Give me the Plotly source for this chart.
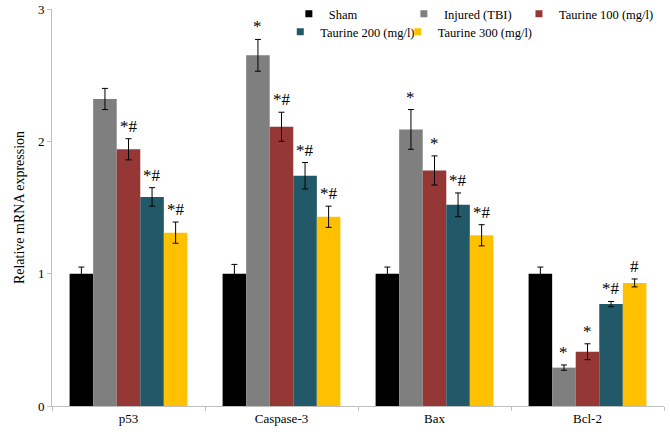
import plotly.graph_objects as go

categories = ["p53", "Caspase-3", "Bax", "Bcl-2"]
series_names = ["Sham", "Injured (TBI)", "Taurine 100 (mg/l)", "Taurine 200 (mg/l)", "Taurine 300 (mg/l)"]
colors = ["#000000", "#7f7f7f", "#953735", "#215968", "#ffc000"]

sham = [1.00, 1.00, 1.00, 1.00]
injured = [2.32, 2.65, 2.09, 0.29]
taurine100 = [1.94, 2.11, 1.78, 0.41]
taurine200 = [1.58, 1.74, 1.52, 0.77]
taurine300 = [1.31, 1.43, 1.29, 0.93]

sham_err = [0.05, 0.07, 0.05, 0.05]
injured_err = [0.08, 0.12, 0.15, 0.02]
taurine100_err = [0.08, 0.11, 0.11, 0.06]
taurine200_err = [0.07, 0.10, 0.09, 0.02]
taurine300_err = [0.08, 0.08, 0.08, 0.03]

sham_sig = ["", "", "", ""]
injured_sig = ["", "*", "*", "*"]
taurine100_sig = ["*#", "*#", "*", "*"]
taurine200_sig = ["*#", "*#", "*#", "*#"]
taurine300_sig = ["*#", "*#", "*#", "#"]

values = [sham, injured, taurine100, taurine200, taurine300]
errors = [sham_err, injured_err, taurine100_err, taurine200_err, taurine300_err]
sigs = [sham_sig, injured_sig, taurine100_sig, taurine200_sig, taurine300_sig]

FONT = "Liberation Serif"

# one legend box per entry (two rows like the original)
legend_ids = ["legend", "legend2", "legend3", "legend4", "legend5"]
legend_x = [0.387, 0.575, 0.763, 0.373, 0.565]
legend_y = [0.987, 0.987, 0.987, 0.942, 0.942]

fig = go.Figure()
for name, col, vals, errs in zip(series_names, colors, values, errors):
    fig.add_trace(go.Bar(
        x=categories, y=vals, name=name, marker=dict(color=col, line=dict(width=0)),
        error_y=dict(type="data", array=errs, visible=True, color="#000000", thickness=1, width=3),
        showlegend=False,
    ))

for name, col, lg in zip(series_names, colors, legend_ids):
    fig.add_trace(go.Scatter(
        x=[None], y=[None], mode="markers", name=name,
        marker=dict(symbol="square", size=7, color=col),
        legend=lg, showlegend=True,
    ))

n = len(series_names)
group_width = 0.77
bw = group_width / n
for i, (vals, errs, sg) in enumerate(zip(values, errors, sigs)):
    off = -group_width / 2 + bw * (i + 0.5)
    for j, (v, e, s) in enumerate(zip(vals, errs, sg)):
        if s:
            fig.add_annotation(x=j + off, y=v + e, text=s, showarrow=False,
                               yanchor="bottom", yshift=1, xref="x", yref="y",
                               font=dict(family=FONT, size=17, color="#000000"))

legend_layout = {}
for lg, lx, ly in zip(legend_ids, legend_x, legend_y):
    legend_layout[lg] = dict(orientation="h", x=lx, y=ly, xanchor="left", yanchor="middle",
                             font=dict(family=FONT, size=12.5), itemwidth=30,
                             bgcolor="rgba(0,0,0,0)", tracegroupgap=0)

fig.update_layout(
    width=670, height=436,
    margin=dict(l=52, r=6, t=9, b=30, autoexpand=False),
    paper_bgcolor="white", plot_bgcolor="white",
    barmode="group", bargap=0.23, bargroupgap=0,
    font=dict(family=FONT, size=13, color="#000000"),
    xaxis=dict(showline=True, linecolor="#bfbfbf", linewidth=1, ticks="outside",
               tickson="boundaries", ticklen=4, tickcolor="#bfbfbf",
               tickfont=dict(family=FONT, size=13), showgrid=False, zeroline=False),
    yaxis=dict(range=[0, 3], tickvals=[0, 1, 2, 3], showline=True, linecolor="#bfbfbf",
               linewidth=1, ticks="outside", ticklen=4, tickcolor="#bfbfbf",
               showgrid=False, zeroline=False, tickfont=dict(family=FONT, size=13),
               title=dict(text="Relative mRNA expression", font=dict(family=FONT, size=14), standoff=10)),
    **legend_layout,
)

fig.write_html("out.html", config={"displayModeBar": False},
               post_script="document.body.style.margin='0';")
